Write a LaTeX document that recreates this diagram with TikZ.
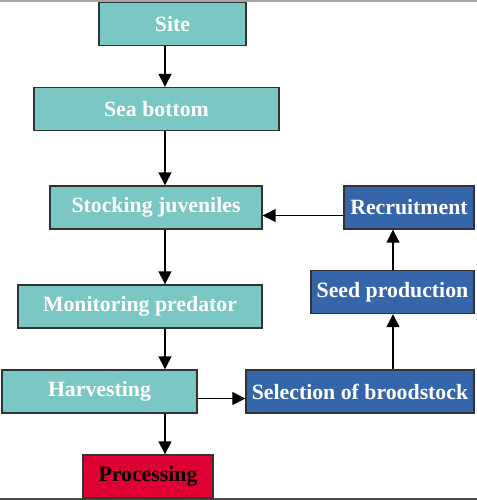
\documentclass[tikz,border=0pt]{standalone}
\usepackage{fontspec}
\setmainfont{Liberation Serif}
\usetikzlibrary{arrows.meta}
\definecolor{tealbox}{HTML}{7BC7C3}
\definecolor{bluebox}{HTML}{3566AA}
\definecolor{redbox}{HTML}{DE0030}
\begin{document}
\begin{tikzpicture}[x=0.5pt,y=-0.5pt]
\tikzset{stepbox/.style={draw=black!80, line width=0.7pt, minimum height=21.5pt, inner sep=0pt, font=\fontsize{10.9}{12}\selectfont\bfseries, text=white}}
\tikzset{flow/.style={draw=black, line width=0.7pt, -{Triangle[length=6.5pt,width=6.5pt]}}}
\useasboundingbox (0,0) rectangle (477,500);
\draw [black!35, line width=1pt] (0,0.5) -- (477,0.5);
\draw [black!70, line width=1.5pt] (0,499.2) -- (477,499.2);
\coordinate (axis) at (165,0);
\coordinate (raxis) at (393,0);
% left column
\node [stepbox, fill=tealbox, minimum width=73.5pt] (site) at (172.5,24) {Site};
\node [stepbox, fill=tealbox, minimum width=122.5pt] (bottom) at (156.5,109) {Sea bottom};
\node [stepbox, fill=tealbox, minimum width=106pt] (stock) at (156,207.5) {Stocking juveniles};
\node [stepbox, fill=tealbox, minimum width=122pt] (monitor) at (140,306.5) {Monitoring predator};
\node [stepbox, fill=tealbox, minimum width=97.5pt] (harvest) at (99.5,391.5) {Harvesting};
\node [stepbox, fill=redbox, minimum width=65pt, text=black] (process) at (148,476.5) {Processing};
% right column
\node [stepbox, fill=bluebox, minimum width=65pt] (recruit) at (409,207.5) {Recruitment};
\node [stepbox, fill=bluebox, minimum width=81.5pt] (seed) at (392.5,292) {Seed production};
\node [stepbox, fill=bluebox, minimum width=114pt] (brood) at (360,391.5) {Selection of broodstock};
% arrows
\draw [flow] (site.south -| axis) -- (bottom.north -| axis);
\draw [flow] (bottom.south -| axis) -- (stock.north -| axis);
\draw [flow] (stock.south -| axis) -- (monitor.north -| axis);
\draw [flow] (monitor.south -| axis) -- (harvest.north -| axis);
\draw [flow] (harvest.south -| axis) -- (process.north -| axis);
\draw [flow] ([yshift=-3.5pt]harvest.east) -- ([yshift=-3.5pt]brood.west);
\draw [flow] (brood.north -| raxis) -- (seed.south -| raxis);
\draw [flow] (seed.north -| raxis) -- (recruit.south -| raxis);
\draw [flow] ([yshift=-4pt]recruit.west) -- ([yshift=-4pt]stock.east);
\end{tikzpicture}
\end{document}
